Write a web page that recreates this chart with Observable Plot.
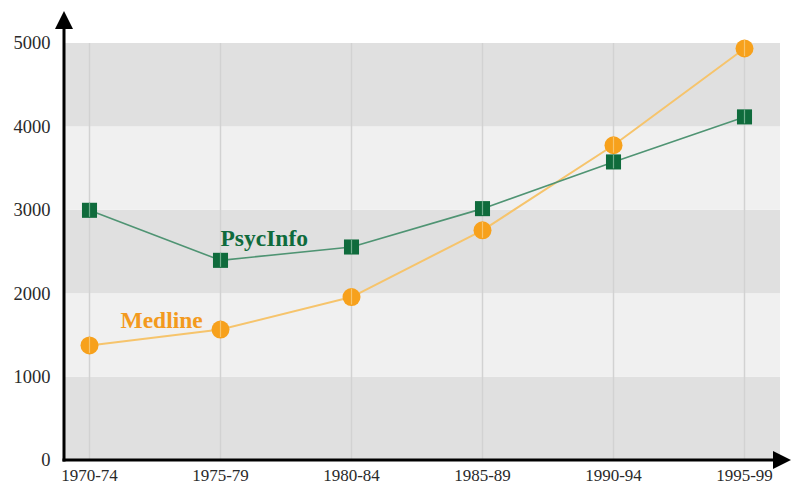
<!DOCTYPE html>
<html>
<head>
<meta charset="utf-8">
<script src="https://cdn.jsdelivr.net/npm/d3@7"></script>
<script src="https://cdn.jsdelivr.net/npm/@observablehq/plot@0.6"></script>
<style>
  body { margin: 0; background: #fff; }
  svg { display: block; }
</style>
</head>
<body>
<div id="chart"></div>
<script>
const periods = ["1970-74", "1975-79", "1980-84", "1985-89", "1990-94", "1995-99"];
const psycInfo = [3000, 2400, 2560, 3020, 3580, 4120];
const medline = [1380, 1570, 1960, 2760, 3780, 4940];
const yTicks = [0, 1000, 2000, 3000, 4000, 5000];
const bandStarts = [0, 1000, 2000, 3000, 4000];
const psycLabel = [{name: "PsycInfo", period: "1975-79", value: 2660}];
const medLabel = [{name: "Medline", period: "1970-74", value: 1680}];

const psyc = periods.map((p, i) => ({period: p, value: psycInfo[i]}));
const med = periods.map((p, i) => ({period: p, value: medline[i]}));
const bands = bandStarts.map((b, i) => ({y1: b, y2: b + 1000, dark: i % 2 === 0}));

const axes = (index, scales, values, dims) => {
  const ns = "http://www.w3.org/2000/svg";
  const g = document.createElementNS(ns, "g");
  const x0 = dims.marginLeft, y0 = dims.height - dims.marginBottom;
  const add = (tag, attrs) => {
    const el = document.createElementNS(ns, tag);
    for (const k in attrs) el.setAttribute(k, attrs[k]);
    g.appendChild(el);
  };
  add("line", {x1: x0, y1: y0 + 1.5, x2: x0, y2: 26, stroke: "#000", "stroke-width": 3});
  add("line", {x1: x0 - 1.5, y1: y0, x2: dims.width - 14, y2: y0, stroke: "#000", "stroke-width": 3});
  add("path", {d: `M${x0},11 L${x0 - 9},29 L${x0 + 9},29 Z`, fill: "#000"});
  add("path", {d: `M${dims.width},${y0} L${dims.width - 18},${y0 - 9} L${dims.width - 18},${y0 + 9} Z`, fill: "#000"});
  return g;
};

const chart = Plot.plot({
  width: 791,
  height: 486,
  marginLeft: 64,
  marginRight: 11,
  marginTop: 43,
  marginBottom: 26,
  style: {background: "#fff", fontFamily: "'Liberation Serif', 'Times New Roman', serif"},
  x: {type: "point", domain: periods, range: [87, 745], padding: 0, label: null},
  y: {domain: [0, 5000], label: null},
  marks: [
    Plot.rect(bands, {y1: "y1", y2: "y2", fill: d => d.dark ? "#e0e0e0" : "#f0f0f0"}),
    Plot.ruleX(periods, {stroke: "#d2d2d2", strokeWidth: 1.5}),
    Plot.axisY({ticks: yTicks, tickSize: 0, tickPadding: 14, fontSize: 18.5, fill: "#2a2a2a", tickFormat: d => String(d)}),
    Plot.axisX({tickSize: 0, tickPadding: 8, fontSize: 17, fill: "#2a2a2a"}),
    Plot.line(med, {x: "period", y: "value", stroke: "#f6c46c", strokeWidth: 2}),
    Plot.line(psyc, {x: "period", y: "value", stroke: "#4f9473", strokeWidth: 1.6}),
    Plot.dot(med, {x: "period", y: "value", r: 9, fill: "#f7a11c", symbol: "circle"}),
    Plot.ruleX(med, {x: "period", y1: "value", y2: "value", insetTop: -8, insetBottom: -8, stroke: "#f9c46a", strokeWidth: 1.2}),
    Plot.dot(psyc, {x: "period", y: "value", r: 8.5, fill: "#0f6b3c", symbol: "square"}),
    Plot.ruleX(psyc, {x: "period", y1: "value", y2: "value", insetTop: -7, insetBottom: -7, stroke: "#6fae8c", strokeWidth: 1.2}),
    Plot.text(psycLabel, {x: "period", y: "value", text: "name", fill: "#0f6b3c", textAnchor: "start", fontSize: 23.5, fontWeight: "bold"}),
    Plot.text(medLabel, {x: "period", y: "value", text: "name", fill: "#f39a1e", dx: 31, textAnchor: "start", fontSize: 23.5, fontWeight: "bold"}),
    axes
  ]
});
document.getElementById("chart").appendChild(chart);
</script>
</body>
</html>
